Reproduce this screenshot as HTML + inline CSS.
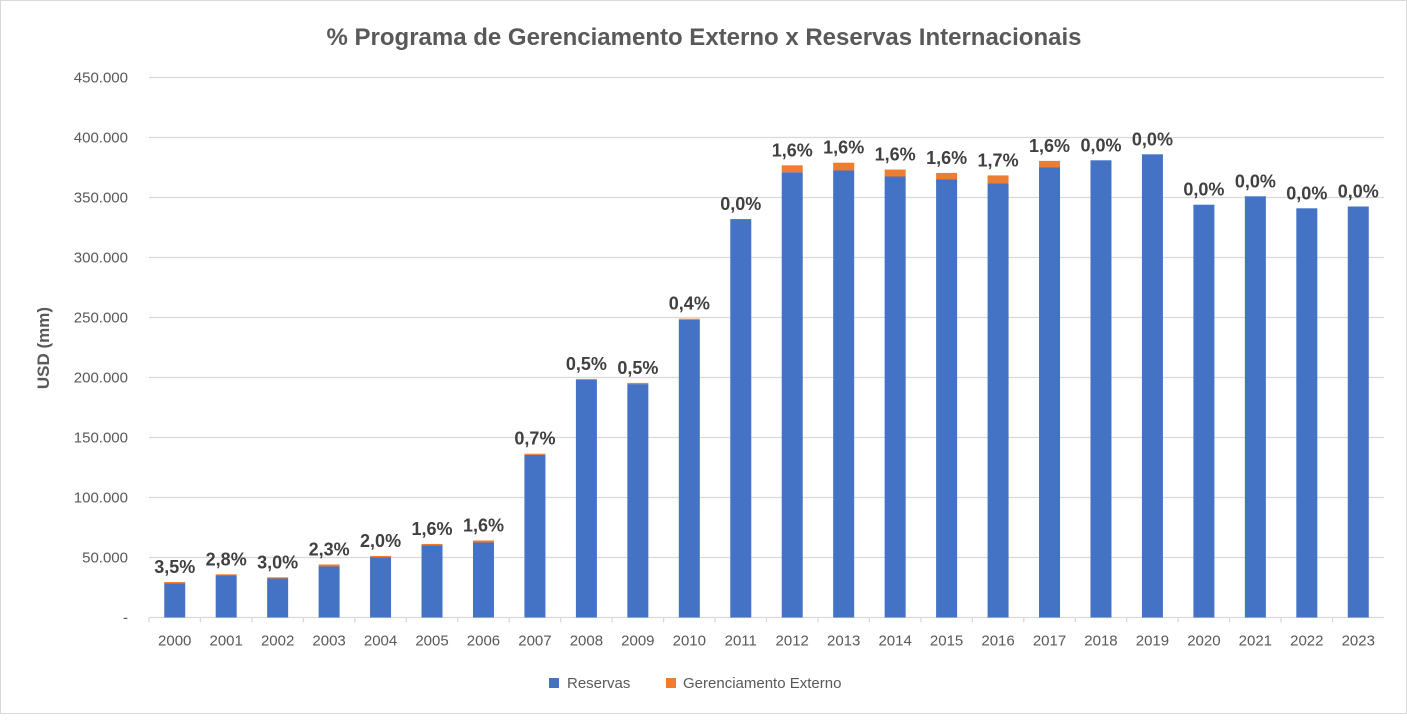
<!DOCTYPE html>
<html><head><meta charset="utf-8"><style>
body{margin:0;background:#fff;font-family:"Liberation Sans",sans-serif}
#c{position:absolute;left:0;top:0;width:1405px;height:712px;border:1px solid #d9d9d9}
</style></head><body>
<div id="c">
<svg id="s" width="1407" height="714" xmlns="http://www.w3.org/2000/svg"></svg>
</div>
<script>
const years=["2000","2001","2002","2003","2004","2005","2006","2007","2008","2009","2010","2011","2012","2013","2014","2015","2016","2017","2018","2019","2020","2021","2022","2023"];
const reservas=[28600,35000,32500,42500,50300,60300,62500,135500,198000,194500,248000,332000,371000,372500,367500,365000,361700,375000,381000,386000,344000,351000,341000,342500];
const gerenciamento=[1000,1000,1000,1700,1000,1000,1700,1000,800,1000,1000,0,5800,6500,5800,5500,6700,5500,0,0,0,0,0,0];
const pctLabels=["3,5%","2,8%","3,0%","2,3%","2,0%","1,6%","1,6%","0,7%","0,5%","0,5%","0,4%","0,0%","1,6%","1,6%","1,6%","1,6%","1,7%","1,6%","0,0%","0,0%","0,0%","0,0%","0,0%","0,0%"];
const yTicks=[0,50000,100000,150000,200000,250000,300000,350000,400000,450000];
const yTickLabels=["-","50.000","100.000","150.000","200.000","250.000","300.000","350.000","400.000","450.000"];

const NS="http://www.w3.org/2000/svg",svg=document.getElementById('s');
const L=148,R=1383,Y0=616.5,PX=1.2/1000;
const band=(R-L)/years.length,bw=21;
const y=v=>Y0-v*PX, xc=i=>L+band*(i+0.5);
function mk(t,a,txt){const e=document.createElementNS(NS,t);for(const k in a)e.setAttribute(k,a[k]);if(txt!=null)e.textContent=txt;svg.appendChild(e);return e;}
let e=mk('text',{x:703,y:44,'text-anchor':'middle','font-size':24,'font-weight':'bold',fill:'#595959'},'% Programa de Gerenciamento Externo x Reservas Internacionais');


yTicks.forEach((t,i)=>{
 if(i>0){const g=mk('line',{x1:L,x2:R,y1:y(t),y2:y(t),stroke:'#d9d9d9','stroke-width':1.3});
 
 }
 const l=mk('text',{x:127,y:y(t)+5,'text-anchor':'end','font-size':15,fill:'#595959'},yTickLabels[i]);
 
 
});
e=mk('line',{x1:L,x2:R,y1:Y0,y2:Y0,stroke:'#d9d9d9','stroke-width':1.3});


e=mk('text',{x:48,y:347,'text-anchor':'middle','font-size':17,'font-weight':'bold',fill:'#595959',transform:'rotate(-90 48 347)'},'USD (mm)');


years.forEach((yr,i)=>{
 const tk=mk('line',{x1:L+band*i,x2:L+band*i,y1:Y0,y2:Y0+5,stroke:'#d9d9d9','stroke-width':1.3});
 
 
 const cx=xc(i);
 const b=mk('rect',{x:cx-bw/2,y:y(reservas[i]),width:bw,height:Y0-y(reservas[i]),fill:'#4472c4'});
 
 
 if(gerenciamento[i]>0){
  const o=mk('rect',{x:cx-bw/2,y:y(reservas[i]+gerenciamento[i]),width:bw,height:gerenciamento[i]*PX,fill:'#ed7d31'});
  
  
 }
 const lb=mk('text',{x:cx,y:y(reservas[i]+gerenciamento[i])-9,'text-anchor':'middle','font-size':18,'font-weight':'bold',fill:'#404040'},pctLabels[i]);
 
 
 const xl=mk('text',{x:cx,y:Y0+28,'text-anchor':'middle','font-size':15,fill:'#595959'},yr);
 
 
});
e=mk('rect',{x:548,y:677,width:10,height:10,fill:'#4472c4'});


e=mk('text',{x:566,y:687,'font-size':15,fill:'#595959'},'Reservas');


e=mk('rect',{x:665,y:677,width:10,height:10,fill:'#ed7d31'});


e=mk('text',{x:682,y:687,'font-size':15,fill:'#595959'},'Gerenciamento Externo');


</script>
</body></html>
